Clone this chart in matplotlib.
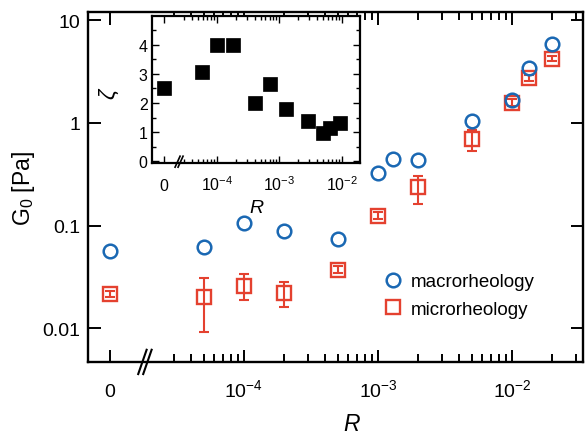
import numpy as np
import matplotlib
matplotlib.use("Agg")
import matplotlib.pyplot as plt
from matplotlib.ticker import FixedLocator, FixedFormatter, NullLocator

plt.rcParams['font.family'] = ['Liberation Sans', 'DejaVu Sans']
plt.rcParams['mathtext.fontset'] = 'custom'
plt.rcParams['mathtext.rm'] = 'Liberation Sans'
plt.rcParams['mathtext.it'] = 'Liberation Sans:italic'
plt.rcParams['mathtext.bf'] = 'Liberation Sans:bold'

# ---------------- data ----------------
# R = 0 is drawn at a stand-in position on the broken log axis
ZERO_POS_MAIN = 1e-5
ZERO_POS_INSET = 10 ** -4.85

R_macro = [0, 5e-5, 1e-4, 2e-4, 5e-4, 1e-3, 1.3e-3, 2e-3, 5e-3, 1e-2, 1.35e-2, 2e-2]
G_macro = [0.057, 0.062, 0.105, 0.0895, 0.0746, 0.324, 0.444, 0.434, 1.046, 1.68, 3.46, 5.82]

R_micro = [0, 5e-5, 1e-4, 2e-4, 5e-4, 1e-3, 2e-3, 5e-3, 1e-2, 1.35e-2, 2e-2]
G_micro = [0.0216, 0.0201, 0.0258, 0.0220, 0.037, 0.125, 0.236, 0.697, 1.57, 2.76, 4.24]
G_micro_lo = [0.0203, 0.0091, 0.0188, 0.0161, 0.0345, 0.116, 0.164, 0.532, 1.45, 2.58, 3.98]
G_micro_hi = [0.0230, 0.031, 0.034, 0.0282, 0.0400, 0.135, 0.302, 0.854, 1.72, 2.96, 4.52]

R_inset = [0, 5.7e-5, 1e-4, 1.8e-4, 4.1e-4, 7.2e-4, 1.3e-3, 2.9e-3, 5.1e-3, 6.6e-3, 9.3e-3]
zeta_inset = [2.52, 3.07, 4.0, 4.0, 2.01, 2.66, 1.80, 1.39, 0.98, 1.15, 1.32]

x_tick_labels = ['0', r'$10^{-4}$', r'$10^{-3}$', r'$10^{-2}$']
y_tick_labels = ['0.01', '0.1', '1', '10']
legend_labels = ['macrorheology', 'microrheology']

BLUE = '#1a68b3'
RED = '#e4412f'


def pos(r, zero):
    return np.array([zero if v == 0 else v for v in r], dtype=float)


fig = plt.figure(figsize=(5.86, 4.39), dpi=100)
ax = fig.add_axes([0.150, 0.173, 0.845, 0.797])

xm = pos(R_macro, ZERO_POS_MAIN)
xu = pos(R_micro, ZERO_POS_MAIN)
G_micro = np.array(G_micro)
yerr = [G_micro - np.array(G_micro_lo), np.array(G_micro_hi) - G_micro]

ax.errorbar(xu, G_micro, yerr=yerr, fmt='none', ecolor=RED, elinewidth=1.5,
            capsize=3.8, capthick=1.5, zorder=2)
ax.plot(xu, G_micro, 's', ms=9.6, mfc='none', mec=RED, mew=1.7, zorder=3,
        label=legend_labels[1])
ax.plot(xm, G_macro, 'o', ms=9.8, mfc='none', mec=BLUE, mew=1.8, zorder=4,
        label=legend_labels[0])

ax.set_xscale('log')
ax.set_yscale('log')
ax.set_xlim(10 ** -5.164, 10 ** -1.47)
ax.set_ylim(10 ** -2.33, 10 ** 1.08)

xmaj = [ZERO_POS_MAIN, 1e-4, 1e-3, 1e-2]
xmin = [k * 1e-5 for k in range(3, 10)] + [k * 1e-4 for k in range(2, 10)] + \
       [k * 1e-3 for k in range(2, 10)] + [2e-2, 3e-2]
ax.xaxis.set_major_locator(FixedLocator(xmaj))
ax.xaxis.set_major_formatter(FixedFormatter(x_tick_labels))
ax.xaxis.set_minor_locator(FixedLocator(xmin))
ax.xaxis.set_minor_formatter(FixedFormatter([''] * len(xmin)))
ax.yaxis.set_major_locator(FixedLocator([0.01, 0.1, 1, 10]))
ax.yaxis.set_major_formatter(FixedFormatter(y_tick_labels))
ax.yaxis.set_minor_locator(NullLocator())

ax.tick_params(which='both', direction='in', top=True, right=True, width=1.4)
ax.tick_params(which='major', length=9)
ax.tick_params(which='minor', length=5.5)
ax.tick_params(axis='y', labelsize=14, pad=5.5)
ax.tick_params(axis='x', labelsize=14, pad=24.5)
for lab in ax.get_xticklabels():
    lab.set_verticalalignment('baseline')
for s in ax.spines.values():
    s.set_linewidth(1.7)

ax.set_ylabel(r'G$_0$ [Pa]', fontsize=16.5)
ax.yaxis.set_label_coords(-0.103, 0.5)
ax.set_xlabel('R', fontsize=16.5, style='italic')
ax.xaxis.set_label_coords(0.533, -0.143)

# axis break marks
for dx in (0.0, 0.0101):
    ax.plot([0.1016 + dx, 0.1186 + dx], [-0.0343, 0.0351], transform=ax.transAxes,
            color='black', lw=1.5, clip_on=False, zorder=5)

h, l = ax.get_legend_handles_labels()
ax.legend([h[1], h[0]], [l[1], l[0]], loc='center left', bbox_to_anchor=(0.598, 0.19),
          frameon=False, fontsize=13.5, handlelength=1.0, handletextpad=0.44,
          borderpad=0, borderaxespad=0, labelspacing=0.55)

# ---------------- inset ----------------
ins = fig.add_axes([0.259, 0.626, 0.355, 0.336])
ins.set_zorder(10)
ins.set_facecolor('white')
xi = pos(R_inset, ZERO_POS_INSET)
ins.plot(xi, zeta_inset, 's', ms=10.5, color='black', mec='black', mew=0.5)
ins.set_xscale('log')
ins.set_xlim(10 ** -5.045, 10 ** -1.71)
ins.set_ylim(-0.07, 5.0)
ins.xaxis.set_major_locator(FixedLocator([ZERO_POS_INSET, 1e-4, 1e-3, 1e-2]))
ins.xaxis.set_major_formatter(FixedFormatter(x_tick_labels))
ixmin = [k * 1e-5 for k in range(3, 10)] + [k * 1e-4 for k in range(2, 10)] + \
        [k * 1e-3 for k in range(2, 10)]
ins.xaxis.set_minor_locator(FixedLocator(ixmin))
ins.xaxis.set_minor_formatter(FixedFormatter([''] * len(ixmin)))
ins.yaxis.set_major_locator(FixedLocator([0, 1, 2, 3, 4]))
ins.yaxis.set_major_formatter(FixedFormatter(['0', '1', '2', '3', '4']))
ins.yaxis.set_minor_locator(FixedLocator([0.5, 1.5, 2.5, 3.5, 4.5]))
ins.tick_params(which='both', direction='in', top=True, right=True, width=1.0)
ins.tick_params(which='major', length=5)
ins.tick_params(which='minor', length=3)
ins.tick_params(axis='y', labelsize=11.5, pad=3)
ins.tick_params(axis='x', labelsize=11.5, pad=19)
for lab in ins.get_xticklabels():
    lab.set_verticalalignment('baseline')
for s in ins.spines.values():
    s.set_linewidth(1.6)
ins.set_ylabel(r'$\zeta$', fontsize=16)
ins.yaxis.set_label_coords(-0.15, 0.482)
ins.set_xlabel('R', fontsize=14, style='italic')
ins.xaxis.set_label_coords(0.505, -0.244)
for dx in (0.0, 0.0144):
    ins.plot([0.112 + dx, 0.136 + dx], [-0.027, 0.0475], transform=ins.transAxes,
             color='black', lw=1.2, clip_on=False, zorder=5)

fig.savefig('out.png', dpi=100)
